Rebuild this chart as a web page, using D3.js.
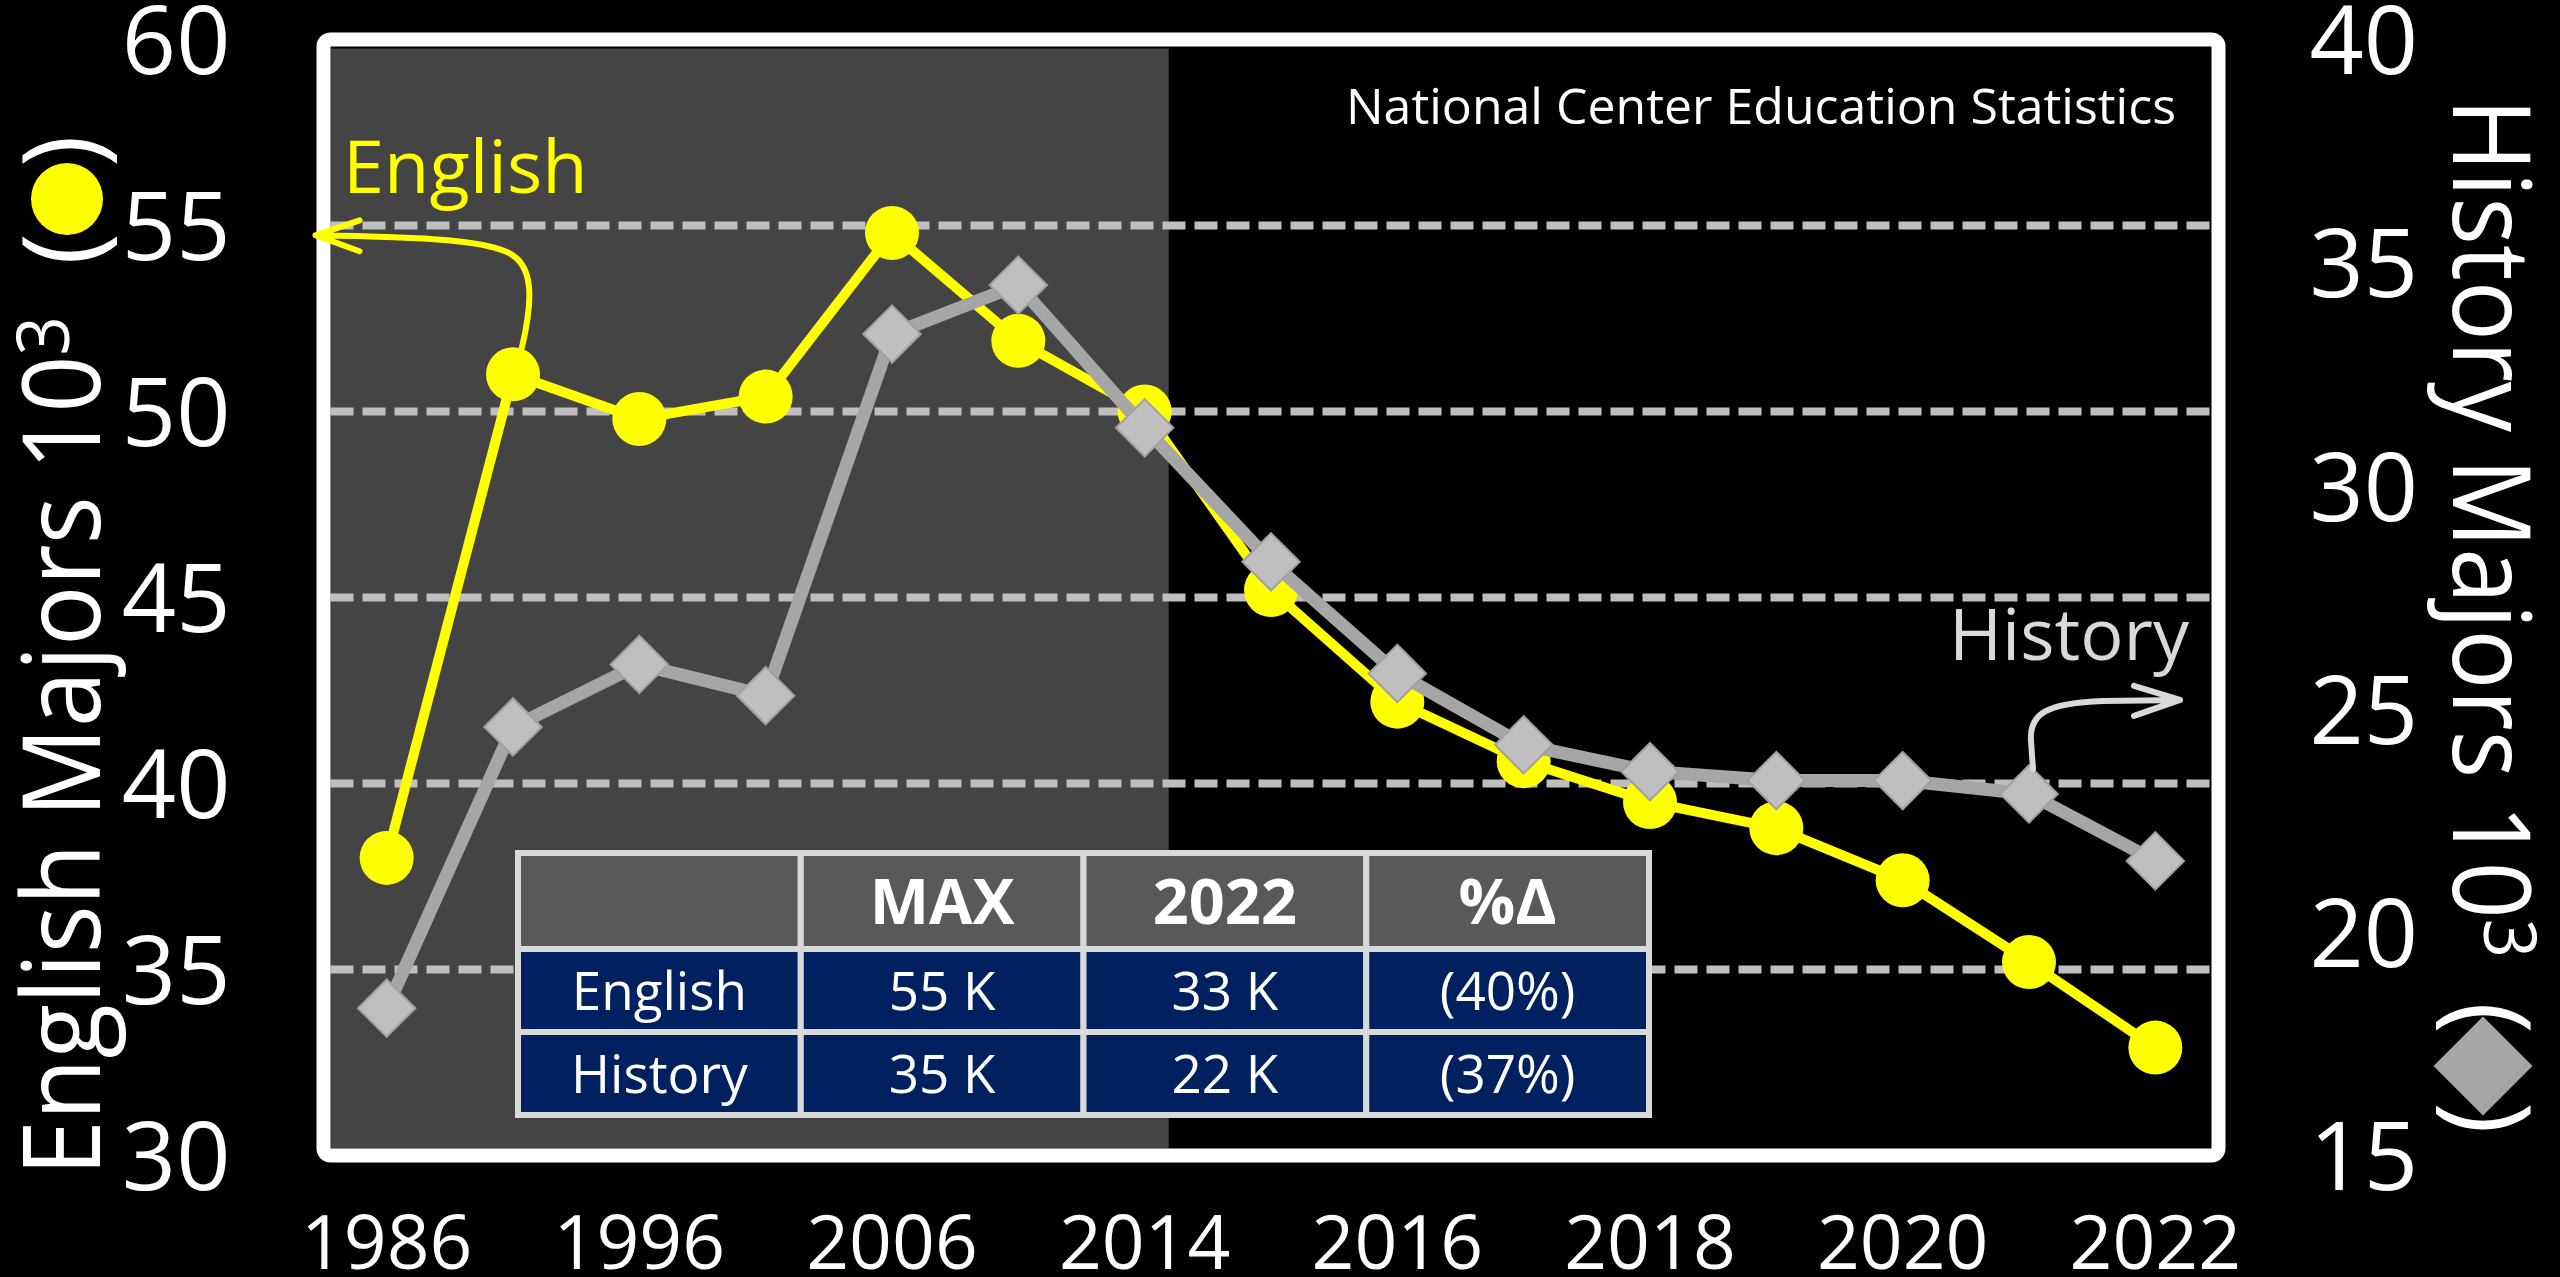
<!DOCTYPE html>
<html>
<head>
<meta charset="utf-8">
<script src="https://cdn.jsdelivr.net/npm/d3@7"></script>
<style>
  html, body { margin: 0; padding: 0; background: #000; }
  svg { display: block; }
</style>
</head>
<body>
<svg id="chart" width="2560" height="1277"></svg>
<script>
// ---- data (thousands of bachelor's degrees) ----
const years = ["1986", "1991", "1996", "2001", "2006", "2010", "2014", "2015", "2016", "2017", "2018", "2019", "2020", "2021", "2022"];
const shownYears = ["1986", "1996", "2006", "2014", "2016", "2018", "2020", "2022"];
const english = [38.0, 51.0, 49.8, 50.4, 54.8, 51.9, 50.0, 45.2, 42.2, 40.6, 39.5, 38.8, 37.4, 35.2, 32.9];
const history = [18.3, 24.6, 26.0, 25.3, 33.4, 34.5, 31.3, 28.3, 25.8, 24.2, 23.6, 23.4, 23.4, 23.1, 21.6];
const englishTicks = [30, 35, 40, 45, 50, 55, 60];
const historyTicks = [15, 20, 25, 30, 35, 40];
const gridValues = [35, 40, 45, 50, 55];
const tableHeader = ["", "MAX", "2022", "%Δ"];
const tableRows = [
  ["English", "55 K", "33 K", "(40%)"],
  ["History", "35 K", "22 K", "(37%)"]
];

// ---- layout ----
const W = 2560, H = 1277;
const FONT = "'Open Sans', 'Noto Sans', sans-serif";
const YELLOW = "#ffff00", GRAY_LINE = "#a6a6a6", GRAY_MARK = "#bfbfbf";
const frame = { left: 323.5, right: 2218.5, top: 39.5, bottom: 1155.5, stroke: 14 };

const svg = d3.select("#chart").attr("font-family", FONT);
svg.append("rect").attr("width", W).attr("height", H).attr("fill", "#000");

const x = d3.scaleBand().domain(years).range([frame.left, frame.right]);
const xc = d => x(d) + x.bandwidth() / 2;
const yL = d3.scaleLinear().domain([30, 60]).range([frame.bottom, frame.top]);
const yR = d3.scaleLinear().domain([15, 40]).range([frame.bottom, frame.top]);
const inset = frame.stroke / 2;

// shaded early period (through 2014)
svg.append("rect")
  .attr("x", frame.left + inset)
  .attr("y", frame.top + inset + 2)
  .attr("width", xc("2014") + x.step() * 0.19 - frame.left - inset)
  .attr("height", frame.bottom - frame.top - 2 * inset - 2)
  .attr("fill", "#444444");

// dashed gridlines
svg.append("g").selectAll("line").data(gridValues).join("line")
  .attr("x1", frame.left + inset).attr("x2", frame.right - inset)
  .attr("y1", d => yL(d)).attr("y2", d => yL(d))
  .attr("stroke", GRAY_MARK).attr("stroke-width", 8)
  .attr("stroke-dasharray", "23 9");

// plot frame
svg.append("rect")
  .attr("x", frame.left).attr("y", frame.top)
  .attr("width", frame.right - frame.left).attr("height", frame.bottom - frame.top)
  .attr("rx", 7).attr("fill", "none")
  .attr("stroke", "#fff").attr("stroke-width", frame.stroke);

// axes
function styleAxis(g, size) {
  g.select(".domain").remove();
  g.attr("font-family", FONT).attr("font-size", size).attr("color", "#fff");
}
const axL = svg.append("g").attr("transform", `translate(${frame.left},0)`)
  .call(d3.axisLeft(yL).tickValues(englishTicks).tickSize(0).tickPadding(93));
styleAxis(axL, 95);
axL.selectAll("text").attr("dy", "0.36em");

const axR = svg.append("g").attr("transform", `translate(${frame.right},0)`)
  .call(d3.axisRight(yR).tickValues(historyTicks).tickSize(0).tickPadding(91));
styleAxis(axR, 95);
axR.selectAll("text").attr("dy", "0.36em");

const axB = svg.append("g").attr("transform", `translate(0,${frame.bottom})`)
  .call(d3.axisBottom(x).tickValues(shownYears).tickSize(0).tickPadding(60));
styleAxis(axB, 75);

// series
const lineL = d3.line().x((d, i) => xc(years[i])).y(d => yL(d));
const lineR = d3.line().x((d, i) => xc(years[i])).y(d => yR(d));

svg.append("path").datum(english).attr("d", lineL)
  .attr("fill", "none").attr("stroke", YELLOW).attr("stroke-width", 10)
  .attr("stroke-linejoin", "round");
svg.append("g").selectAll("circle").data(english).join("circle")
  .attr("cx", (d, i) => xc(years[i])).attr("cy", d => yL(d))
  .attr("r", 27).attr("fill", YELLOW);

svg.append("path").datum(history).attr("d", lineR)
  .attr("fill", "none").attr("stroke", GRAY_LINE).attr("stroke-width", 13)
  .attr("stroke-linejoin", "round");
const diamond = d3.symbol().type(d3.symbolSquare).size(1650);
svg.append("g").selectAll("path").data(history).join("path")
  .attr("d", diamond)
  .attr("transform", (d, i) => `translate(${xc(years[i])},${yR(d)}) rotate(45)`)
  .attr("fill", GRAY_MARK).attr("stroke", "#a0a0a0").attr("stroke-width", 2);

// summary table
const tbl = { left: 518, right: 1649, rows: [853, 949, 1032, 1115] };
const colW = (tbl.right - tbl.left) / tableHeader.length;
const tableData = [tableHeader, ...tableRows];
const tg = svg.append("g");
tableData.forEach((row, r) => {
  const y0 = tbl.rows[r], y1 = tbl.rows[r + 1];
  row.forEach((cell, c) => {
    tg.append("rect")
      .attr("x", tbl.left + c * colW).attr("y", y0)
      .attr("width", colW).attr("height", y1 - y0)
      .attr("fill", r === 0 ? "#595959" : "#002060")
      .attr("stroke", "#d9d9d9").attr("stroke-width", 6);
    tg.append("text")
      .attr("x", tbl.left + (c + 0.5) * colW).attr("y", (y0 + y1) / 2)
      .attr("dy", "0.36em").attr("text-anchor", "middle")
      .attr("fill", "#fff")
      .attr("font-size", r === 0 ? 63 : 53)
      .attr("font-weight", r === 0 ? 700 : 400)
      .text(cell);
  });
});

// source note
svg.append("text").attr("x", 2176).attr("y", 124)
  .attr("text-anchor", "end").attr("font-size", 50).attr("fill", "#fff")
  .text("National Center Education Statistics");

// series callouts
const pE = { x: xc("1991"), y: yL(english[1]) };
svg.append("text").attr("x", 343).attr("y", 193)
  .attr("font-size", 74).attr("fill", YELLOW).text("English");
const eTip = { x: frame.left - 8, y: pE.y - 139 };
svg.append("path")
  .attr("d", `M${pE.x + 9},${pE.y - 27} C${pE.x + 20},${pE.y - 74} ${pE.x + 22},${pE.y - 112} ${pE.x - 8},${pE.y - 123}` +
             ` C${pE.x - 33},${pE.y - 133} ${pE.x - 73},${pE.y - 137} ${eTip.x},${eTip.y}` +
             ` M${eTip.x + 44},${eTip.y - 15} L${eTip.x},${eTip.y} L${eTip.x + 44},${eTip.y + 16}`)
  .attr("fill", "none").attr("stroke", YELLOW).attr("stroke-width", 6)
  .attr("stroke-linecap", "round").attr("stroke-linejoin", "round");

const pH = { x: xc("2021"), y: yR(history[13]) };
svg.append("text").attr("x", 2189).attr("y", 660)
  .attr("text-anchor", "end").attr("font-size", 72).attr("fill", "#d9d9d9").text("History");
const hTip = { x: pH.x + 151, y: pH.y - 94 };
svg.append("path")
  .attr("d", `M${pH.x + 4},${pH.y - 25} L${pH.x + 2},${pH.y - 53} C${pH.x},${pH.y - 81} ${pH.x + 19},${pH.y - 91} ${pH.x + 74},${pH.y - 93}` +
             ` L${hTip.x},${hTip.y}` +
             ` M${hTip.x - 46},${hTip.y - 14} L${hTip.x},${hTip.y} L${hTip.x - 46},${hTip.y + 16}`)
  .attr("fill", "none").attr("stroke", "#d9d9d9").attr("stroke-width", 6)
  .attr("stroke-linecap", "round").attr("stroke-linejoin", "round");

// axis titles with series markers
function axisTitle(tx, ty, angle, label, length, paren1, paren2) {
  const g = svg.append("g").attr("transform", `translate(${tx},${ty}) rotate(${angle})`)
    .attr("fill", "#fff").attr("font-size", 108);
  const t = g.append("text").attr("x", 0).attr("y", 0)
    .attr("textLength", length).attr("lengthAdjust", "spacingAndGlyphs");
  t.append("tspan").text(label);
  t.append("tspan").attr("font-size", 74).attr("dy", -31).text("3");
  g.append("text").attr("x", paren1).attr("text-anchor", "middle").text("(");
  g.append("text").attr("x", paren2).attr("text-anchor", "middle").text(")");
  return g;
}
axisTitle(100, 1176, -90, "English Majors 10", 860, 927, 1025);
svg.append("circle").attr("cx", 67).attr("cy", 199).attr("r", 36).attr("fill", YELLOW);

axisTitle(2453, 98, 90, "History Majors 10", 860, 920, 1020);
svg.append("path")
  .attr("d", d3.symbol().type(d3.symbolSquare).size(4900))
  .attr("transform", "translate(2483,1066) rotate(45)")
  .attr("fill", GRAY_LINE);
</script>
</body>
</html>
